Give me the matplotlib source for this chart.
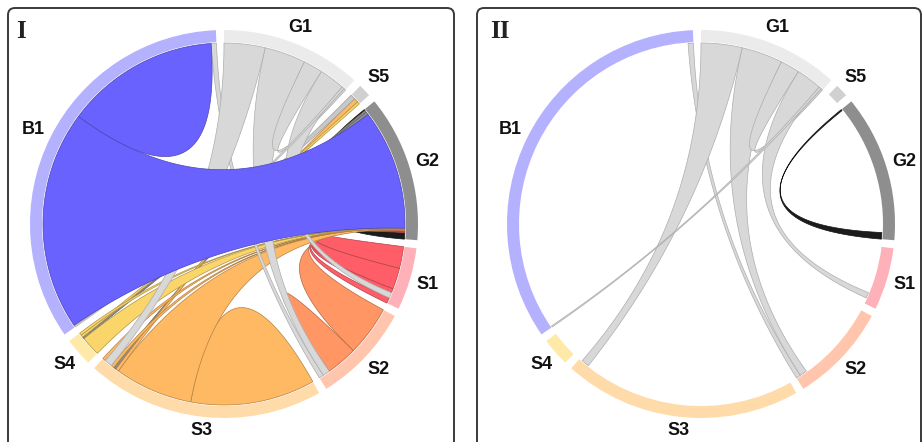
import numpy as np
import matplotlib
matplotlib.use("Agg")
import matplotlib.pyplot as plt
from matplotlib.patches import Wedge, Polygon, FancyBboxPatch
from matplotlib.colors import to_rgb

# sectors, clockwise from the top
sectors = ["G1", "S5", "G2", "S1", "S2", "S3", "S4", "B1"]
ring_col = {"G1": "#EBEBEB", "S5": "#D0D0D0", "G2": "#8E8E8E", "S1": "#FFB1B9",
            "S2": "#FFC6AD", "S3": "#FFDBAA", "S4": "#FFE9A8", "B1": "#B4B1FF"}
chord_col = {"blue": "#6A62FF", "gray": "#D8D8D8", "lgray": "#C8C8C8", "dgray": "#8E8E8E",
             "black": "#1C1C1C", "red": "#FF5E68", "orange": "#FF9663",
             "amber": "#FFB963", "yellow": "#FAD56A"}

# links (width of each end in degrees of arc)
link_name = ["b1_g2", "b1_b1", "b1_s2", "g1_s3", "g1_s2", "g1_g1", "g1_s1", "g1_b1",
             "g2_g2", "g2_s3", "g2_s4", "s1_g2a", "s1_g2b", "s1_g2c", "s1_g2d",
             "s2_g2", "s2_s2", "s3_s3", "s3_g2", "s3_s5", "s3_g2b", "s3_g2c",
             "s4_g2", "s4_s5", "s4_g2b", "s5_b1"]
w_from = [70.5, 24.7, 1.7, 13.2, 13.2, 6.2, 8.2, 0.8,
          2.1, 0.65, 0.9, 7.0, 6.8, 1.3, 1.8,
          16.1, 5.0, 20.0, 25.1, 1.0, 1.0, 1.0,
          6.3, 0.8, 0.8, 1.6]
w_to = [38.6, 24.7, 1.5, 2.5, 2.3, 0.6, 1.8, 0.4,
        0.4, 0.8, 0.6, 0.2, 0.2, 0.05, 0.05,
        0.3, 5.0, 20.0, 0.3, 1.4, 0.05, 0.05,
        0.1, 0.8, 0.05, 0.3]
link_col = ["blue", "blue", "gray", "gray", "gray", "gray", "gray", "gray",
            "black", "dgray", "dgray", "red", "red", "red", "red",
            "orange", "orange", "amber", "amber", "amber", "amber", "amber",
            "yellow", "yellow", "yellow", "lgray"]
# links kept in panel II
panel2 = ["b1_s2", "g1_s3", "g1_s2", "g1_g1", "g1_s1", "g1_b1", "g2_g2"]

# order of link ends along each sector (clockwise); ">" = from end, "<" = to end
end_order = {
    "G1": ["g1_s3>", "g1_s2>", "g1_g1>", "g1_s1>", "g1_b1>", "g1_g1<"],
    "S5": ["s5_b1>", "s3_s5<", "s4_s5<"],
    "G2": ["g2_g2<", "g2_s3>", "g2_s4>", "b1_g2<", "s4_g2<", "s4_g2b<", "s3_g2c<",
           "s3_g2b<", "s3_g2<", "s2_g2<", "s1_g2d<", "s1_g2c<", "s1_g2b<", "s1_g2a<",
           "g2_g2>"],
    "S1": ["s1_g2a>", "s1_g2b>", "s1_g2c>", "g1_s1<", "s1_g2d>"],
    "S2": ["s2_g2>", "s2_s2>", "s2_s2<", "g1_s2<", "b1_s2<"],
    "S3": ["s3_s3>", "s3_s3<", "s3_g2>", "s3_s5>", "g2_s3<", "s3_g2b>", "g1_s3<", "s3_g2c>"],
    "S4": ["s4_g2>", "g2_s4<", "s4_s5>", "s4_g2b>"],
    "B1": ["g1_b1<", "s5_b1<", "b1_g2>", "b1_b1>", "b1_b1<", "b1_s2>"],
}

R_OUT, R_W, R_LINK = 194, 12, 181

idx = {n: i for i, n in enumerate(link_name)}


def end_width(e):
    i = idx[e[:-1]]
    return w_from[i] if e[-1] == ">" else w_to[i]


sec_size = {s: sum(end_width(e) for e in end_order[s]) for s in sectors}
gap = (360 - sum(sec_size.values())) / len(sectors)

sec_start, sec_end, ends = {}, {}, {}
cur = 90.0
for s in sectors:
    sec_start[s] = cur
    pos = cur
    for e in end_order[s]:
        w = end_width(e)
        ends[e] = (pos, pos - w)
        pos -= w
    cur -= sec_size[s]
    sec_end[s] = cur
    cur -= gap


def arc(c, r, a0, a1, n=50):
    t = np.radians(np.linspace(a0, a1, n))
    return np.column_stack([c[0] + r * np.cos(t), c[1] + r * np.sin(t)])


def bez(p0, p2, c, d, n=80):
    # control point at the centre, pulled towards the chord when the two ends are close
    f = max(0.0, 1 - d / 3.0)
    ctrl = np.array(c) + ((p0 + p2) / 2 - np.array(c)) * f
    s = np.linspace(0, 1, n)[:, None]
    return (1 - s) ** 2 * p0 + 2 * (1 - s) * s * ctrl + s ** 2 * p2


def angdist(a, b):
    d = abs(a - b) % 360
    return min(d, 360 - d)


def ribbon(c, a, b):
    pa = arc(c, R_LINK, a[0], a[1])
    pb = arc(c, R_LINK, b[0], b[1])
    return np.vstack([pa, bez(pa[-1], pb[0], c, angdist(a[1], b[0])), pb,
                      bez(pb[-1], pa[0], c, angdist(b[1], a[0]))])


def darker(col, f=0.65):
    return tuple(v * f for v in to_rgb(col))


fig = plt.figure(figsize=(9.24, 4.42), dpi=100)
ax = fig.add_axes([0, 0, 1, 1])
ax.set_xlim(0, 924)
ax.set_ylim(0, 442)
ax.axis("off")

# panel frames
for x0, x1 in [(8, 454), (477, 921)]:
    ax.add_patch(FancyBboxPatch((x0, -40), x1 - x0, 474, boxstyle="round,pad=0,rounding_size=7",
                                fc="white", ec="#3a3a3a", lw=1.4, zorder=0))

centers = [(224, 218), (701, 218)]
rank_of = {"black": 0, "gray": 2, "blue": 3}

for k, c in enumerate(centers):
    names = link_name if k == 0 else panel2
    # drawing order: black, coloured, gray, blue (self loop on top)
    order = sorted(names, key=lambda n: (rank_of.get(link_col[idx[n]], 1), n == "b1_b1"))
    for n in order:
        i = idx[n]
        col = chord_col[link_col[i]]
        pts = ribbon(c, ends[n + ">"], ends[n + "<"])
        f = 0.8 if link_col[i] in ("gray", "lgray") else 0.7
        ax.add_patch(Polygon(pts, closed=True, fc=col, ec=darker(col, f), lw=0.5, zorder=2))

    for s in sectors:
        ax.add_patch(Wedge(c, R_OUT, sec_end[s], sec_start[s], width=R_W,
                           fc=ring_col[s], ec="none", zorder=3))
        mid = np.radians((sec_start[s] + sec_end[s]) / 2)
        r = 200 + abs(np.cos(mid)) * 11 + abs(np.sin(mid)) * 7
        ax.text(c[0] + r * np.cos(mid), c[1] + r * np.sin(mid), s,
                ha="center", va="center", fontsize=13, fontweight="bold",
                family="Liberation Sans", color="#111111", zorder=4)

ax.text(21, 411, "I", ha="center", va="center", fontsize=18, fontweight="bold",
        family="Liberation Serif", color="#222222")
ax.text(500, 411, "II", ha="center", va="center", fontsize=18, fontweight="bold",
        family="Liberation Serif", color="#222222")

fig.savefig("out.png", dpi=100)
